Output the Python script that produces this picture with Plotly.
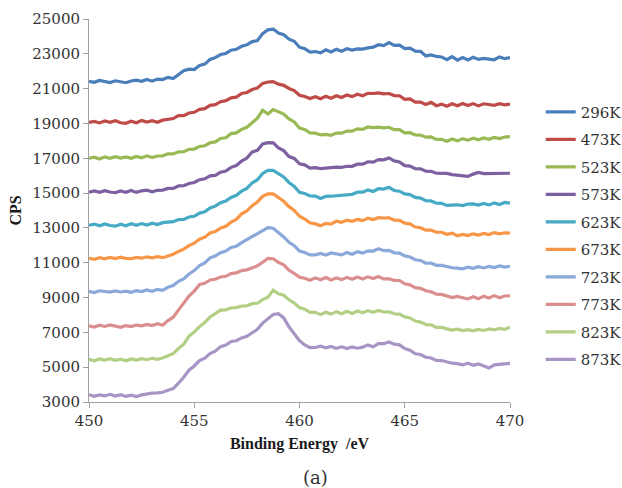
import plotly.graph_objects as go

# Binding-energy grid (eV), 0.25 eV steps from 450 to 470
energy = [450 + 0.25 * i for i in range(81)]

# Counts per second for each anneal temperature (one row per eV)
cps_296 = [
    21420, 21360, 21470, 21390,
    21350, 21450, 21380, 21340,
    21440, 21490, 21420, 21530,
    21430, 21550, 21520, 21650,
    21580, 21800, 22030, 22120,
    22100, 22330, 22410, 22680,
    22780, 22960, 23020, 23210,
    23260, 23430, 23520, 23700,
    23760, 24160, 24380, 24420,
    24190, 24100, 23840, 23720,
    23380, 23290, 23100, 23130,
    23060, 23230, 23110, 23260,
    23150, 23290, 23220, 23280,
    23270, 23340, 23380, 23520,
    23470, 23650, 23480, 23500,
    23300, 23330, 23150, 23140,
    22880, 22940, 22850, 22820,
    22660, 22840, 22640, 22790,
    22650, 22800, 22680, 22740,
    22720, 22660, 22820, 22720,
    22780,
]
cps_473 = [
    19060, 19120, 19030, 19140,
    19070, 19160, 19040, 19010,
    19130, 19040, 19170, 19080,
    19160, 19070, 19190, 19240,
    19280, 19450, 19450, 19600,
    19640, 19810, 19850, 20040,
    20080, 20250, 20310, 20470,
    20510, 20720, 20780, 20950,
    21040, 21300, 21380, 21400,
    21260, 21190, 21010, 20890,
    20620, 20550, 20430, 20540,
    20420, 20560, 20450, 20590,
    20490, 20630, 20540, 20680,
    20590, 20730, 20720, 20760,
    20700, 20720, 20600, 20590,
    20380, 20410, 20220, 20230,
    20090, 20210, 20020, 20110,
    19990, 20130, 20020, 20150,
    20030, 20140, 20010, 20130,
    20100, 20040, 20140, 20070,
    20110,
]
cps_523 = [
    17000, 17060, 16960, 17080,
    17000, 17090, 17010, 17080,
    17000, 17100, 17030, 17140,
    17040, 17130, 17140, 17260,
    17250, 17370, 17380, 17510,
    17530, 17680, 17720, 17890,
    17940, 18140, 18180, 18420,
    18460, 18660, 18780, 19050,
    19300, 19760, 19540, 19800,
    19660, 19540, 19260, 19090,
    18740, 18660, 18460, 18450,
    18340, 18370, 18320, 18450,
    18440, 18560, 18560, 18690,
    18660, 18800, 18760, 18790,
    18750, 18780, 18640, 18650,
    18460, 18470, 18340, 18330,
    18210, 18230, 18080, 18090,
    17980, 18110, 18000, 18130,
    18040, 18150, 18060, 18170,
    18090, 18200, 18130, 18220,
    18240,
]
cps_573 = [
    15050, 15120, 15040, 15140,
    15060, 15020, 15120, 15050,
    15150, 15040, 15130, 15170,
    15070, 15160, 15170, 15270,
    15270, 15410, 15420, 15550,
    15610, 15770, 15820, 15990,
    16020, 16200, 16270, 16480,
    16580, 16840, 17010, 17360,
    17460, 17820, 17900, 17890,
    17600, 17440, 17100, 16990,
    16680, 16620, 16440, 16460,
    16410, 16440, 16440, 16490,
    16480, 16540, 16540, 16660,
    16660, 16800, 16780, 16920,
    16910, 17020, 16850, 16790,
    16580, 16550, 16400, 16390,
    16260, 16250, 16140, 16150,
    16130, 16060, 16040, 15980,
    15960, 16090, 16190, 16120,
    16130, 16150, 16120, 16160,
    16140,
]
cps_623 = [
    13150, 13220, 13120, 13230,
    13140, 13100, 13210, 13120,
    13240, 13150, 13250, 13160,
    13270, 13190, 13300, 13310,
    13360, 13480, 13490, 13630,
    13670, 13850, 13920, 14150,
    14250, 14450, 14550, 14750,
    14870, 15110, 15270, 15580,
    15770, 16130, 16300, 16310,
    16110, 15930, 15610, 15380,
    15040, 14980, 14840, 14830,
    14690, 14810, 14820, 14850,
    14870, 14910, 14930, 15050,
    15050, 15180, 15090, 15250,
    15230, 15330, 15150, 15110,
    14950, 14910, 14750, 14710,
    14570, 14550, 14420, 14410,
    14290, 14310, 14330, 14280,
    14370, 14380, 14310, 14410,
    14320, 14430, 14340, 14460,
    14420,
]
cps_673 = [
    11260, 11190, 11290, 11220,
    11310, 11240, 11320, 11250,
    11230, 11310, 11260, 11340,
    11280, 11350, 11290, 11400,
    11480, 11650, 11780, 11980,
    12120, 12350, 12470, 12710,
    12790, 12990, 13090, 13330,
    13490, 13810, 13970, 14280,
    14490, 14810, 14950, 14950,
    14720, 14530, 14220, 14010,
    13670, 13510, 13290, 13230,
    13120, 13260, 13220, 13390,
    13320, 13450, 13380, 13490,
    13420, 13560, 13480, 13590,
    13570, 13580, 13450, 13430,
    13270, 13230, 13050, 13010,
    12870, 12880, 12750, 12750,
    12630, 12700, 12550, 12630,
    12560, 12660, 12590, 12680,
    12620, 12730, 12660, 12720,
    12700,
]
cps_723 = [
    9360, 9290, 9390, 9330,
    9310, 9380, 9320, 9370,
    9300, 9390, 9340, 9440,
    9360, 9470, 9410, 9590,
    9690, 9930, 10070, 10350,
    10550, 10830, 10990, 11280,
    11390, 11580, 11670, 11880,
    11950, 12150, 12320, 12530,
    12650, 12830, 13020, 12980,
    12750, 12480, 12170, 11980,
    11670, 11590, 11450, 11450,
    11530, 11440, 11560, 11490,
    11450, 11590, 11490, 11630,
    11550, 11680, 11670, 11810,
    11690, 11710, 11570, 11550,
    11390, 11330, 11170, 11130,
    10970, 10980, 10850, 10850,
    10780, 10710, 10690, 10650,
    10740, 10680, 10770, 10700,
    10790, 10720, 10820, 10750,
    10800,
]
cps_773 = [
    7380, 7310, 7410, 7340,
    7430, 7350, 7290, 7390,
    7330, 7420, 7370, 7460,
    7390, 7500, 7410, 7680,
    7870, 8280, 8670, 9080,
    9370, 9750, 9820, 10010,
    10050, 10180, 10220, 10380,
    10420, 10550, 10590, 10730,
    10820, 11030, 11250, 11230,
    11020, 10880, 10570, 10380,
    10170, 10110, 9990, 10130,
    10020, 10150, 10010, 10130,
    10030, 10160, 10050, 10180,
    10070, 10190, 10090, 10210,
    10070, 10080, 9990, 9980,
    9790, 9730, 9570, 9530,
    9390, 9330, 9190, 9180,
    9080, 9000, 9060, 8970,
    8920, 9050, 8930, 9080,
    8970, 9110, 8990, 9090,
    9100,
]
cps_823 = [
    5450, 5370, 5470, 5410,
    5490, 5390, 5460, 5370,
    5470, 5410, 5490, 5430,
    5510, 5450, 5530, 5640,
    5780, 6080, 6320, 6780,
    7020, 7330, 7570, 7880,
    8070, 8280, 8290, 8410,
    8420, 8510, 8530, 8650,
    8670, 8880, 9020, 9420,
    9220, 9130, 8870, 8680,
    8420, 8330, 8150, 8150,
    8020, 8160, 8050, 8190,
    8070, 8210, 8090, 8230,
    8120, 8250, 8150, 8260,
    8170, 8180, 8070, 8050,
    7890, 7830, 7650, 7590,
    7450, 7430, 7290, 7290,
    7200, 7130, 7180, 7100,
    7160, 7090, 7170, 7110,
    7200, 7140, 7230, 7170,
    7300,
]
cps_873 = [
    3420, 3330, 3410, 3350,
    3440, 3340, 3420, 3320,
    3390, 3310, 3410, 3470,
    3510, 3520, 3560, 3680,
    3770, 4080, 4420, 4830,
    5070, 5380, 5520, 5780,
    5920, 6180, 6270, 6480,
    6520, 6680, 6770, 6980,
    7170, 7530, 7770, 8030,
    8070, 7830, 7320, 6930,
    6520, 6280, 6120, 6130,
    6210, 6110, 6190, 6080,
    6170, 6070, 6160, 6090,
    6150, 6280, 6170, 6350,
    6350, 6450, 6320, 6280,
    6070, 5980, 5770, 5730,
    5570, 5530, 5390, 5380,
    5300, 5230, 5200, 5130,
    5230, 5110, 5190, 5060,
    4950, 5130, 5150, 5180,
    5220,
]

labels = ["296K", "473K", "523K", "573K", "623K",
          "673K", "723K", "773K", "823K", "873K"]
series = [cps_296, cps_473, cps_523, cps_573, cps_623,
          cps_673, cps_723, cps_773, cps_823, cps_873]
colors = ["#4A7EBB", "#BE4B48", "#98B954", "#7D60A0", "#46AAC5",
          "#F79646", "#8AA8DA", "#DA8E8E", "#B3CF86", "#A795C6"]

fig = go.Figure()
for name, vals, col in zip(labels, series, colors):
    fig.add_trace(go.Scatter(
        x=energy, y=vals, mode="lines", name=name, legendgroup=name,
        line=dict(color=col, width=3.2),
    ))

axis_font = dict(family="DejaVu Serif", size=15, color="#333333")
title_font = dict(family="Liberation Serif", size=16, color="#1a1a1a")

fig.update_layout(
    width=622, height=488,
    margin=dict(l=89, r=112, t=19, b=86, autoexpand=False),
    paper_bgcolor="white", plot_bgcolor="white",
    showlegend=True,
    legend=dict(
        x=1.073, xanchor="left", y=0.80, yanchor="top",
        font=axis_font, traceorder="grouped", tracegroupgap=5,
        bgcolor="rgba(0,0,0,0)",
    ),
    xaxis=dict(
        range=[450, 470], dtick=5, tick0=450,
        showgrid=False, zeroline=False,
        showline=True, linecolor="#A0A0A0", linewidth=1,
        ticks="outside", ticklen=5, tickcolor="#A0A0A0",
        tickfont=axis_font,
        title=dict(text="<b>Binding Energy  /eV</b>", font=title_font, standoff=8),
    ),
    yaxis=dict(
        range=[3000, 25000], dtick=2000, tick0=3000, tickformat="d",
        showgrid=False, zeroline=False,
        showline=True, linecolor="#A0A0A0", linewidth=1,
        ticks="outside", ticklen=5, tickcolor="#A0A0A0",
        tickfont=axis_font,
        title=dict(text="<b>CPS</b>", font=title_font, standoff=6),
    ),
    annotations=[dict(
        text="(a)", x=0.537, y=-0.198, xref="paper", yref="paper",
        xanchor="center", yanchor="middle", showarrow=False,
        font=dict(family="DejaVu Serif", size=18, color="#333333"),
    )],
)

fig.write_html("out.html")
